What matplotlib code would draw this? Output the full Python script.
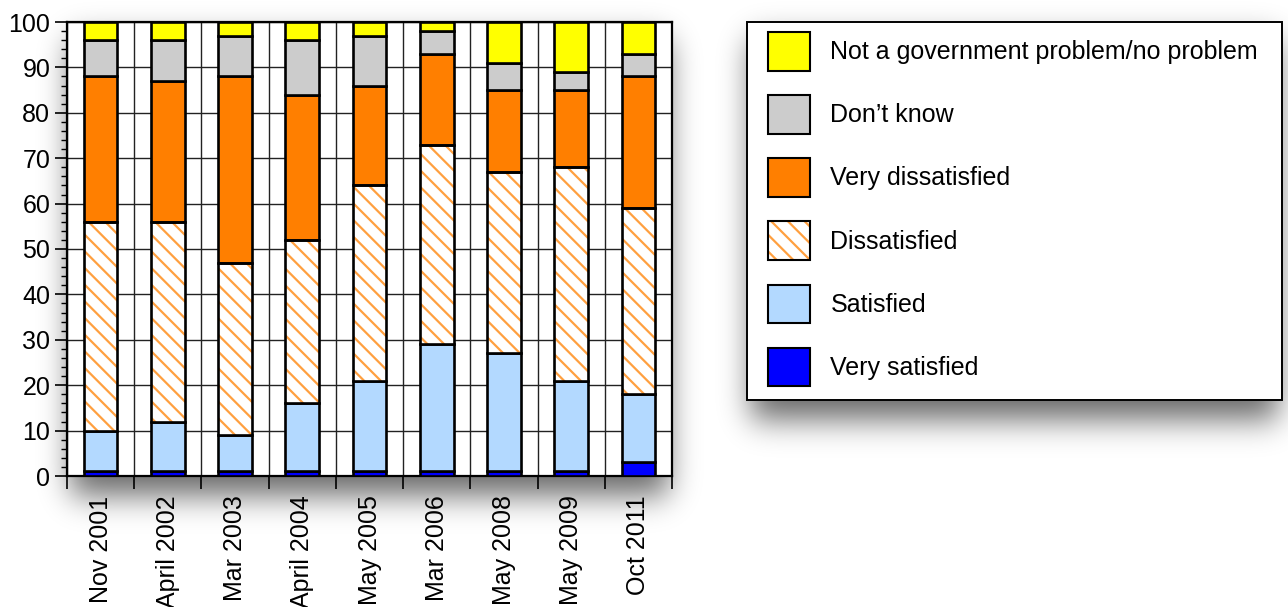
import numpy as np
import matplotlib.pyplot as plt
from matplotlib.patches import Patch, Rectangle

plt.rcParams['font.family'] = ['Liberation Sans', 'DejaVu Sans']
plt.rcParams['hatch.linewidth'] = 1.6

surveys = ['Nov 2001', 'April 2002', 'Mar 2003', 'April 2004', 'May 2005',
           'Mar 2006', 'May 2008', 'May 2009', 'Oct 2011']

# percent of respondents, stacked bottom to top
very_satisfied = [1, 1, 1, 1, 1, 1, 1, 1, 3]
satisfied = [9, 11, 8, 15, 20, 28, 26, 20, 15]
dissatisfied = [46, 44, 38, 36, 43, 44, 40, 47, 41]
very_dissatisfied = [32, 31, 41, 32, 22, 20, 18, 17, 29]
dont_know = [8, 9, 9, 12, 11, 5, 6, 4, 5]
not_gov_problem = [4, 4, 3, 4, 3, 2, 9, 11, 7]

layers = [
    (very_satisfied, 'Very satisfied', '#0000ff', None),
    (satisfied, 'Satisfied', '#b3d9ff', None),
    (dissatisfied, 'Dissatisfied', '#ffffff', '\\\\'),
    (very_dissatisfied, 'Very dissatisfied', '#ff7f00', None),
    (dont_know, 'Don\u2019t know', '#cccccc', None),
    (not_gov_problem, 'Not a government problem/no problem', '#ffff00', None),
]
hatch_orange = '#ffa040'

W, H = 1288, 607
fig = plt.figure(figsize=(W / 100, H / 100), dpi=100)
ax = fig.add_axes([67 / W, 1 - 476 / H, 605 / W, 454 / H])
ax.set_zorder(2)

x = np.arange(len(surveys))
bottom = np.zeros(len(surveys))
handles = []
for vals, name, color, hatch in layers:
    vals = np.array(vals, dtype=float)
    if hatch:
        ax.bar(x, vals, 0.5, bottom=bottom, color=color, edgecolor=hatch_orange,
               linewidth=0, hatch=hatch, zorder=3)
        ax.bar(x, vals, 0.5, bottom=bottom, fill=False, edgecolor='black',
               linewidth=1.9, zorder=4)
        h = (Patch(facecolor=color, edgecolor=hatch_orange, linewidth=0, hatch=hatch),
             Patch(fill=False, edgecolor='black', linewidth=1.5))
    else:
        ax.bar(x, vals, 0.5, bottom=bottom, color=color, edgecolor='black',
               linewidth=1.9, zorder=3)
        h = Patch(facecolor=color, edgecolor='black', linewidth=1.5)
    handles.append((h, name))
    bottom += vals

ax.set_xlim(-0.5, len(surveys) - 0.5)
ax.set_ylim(0, 100)
ax.set_yticks(np.arange(0, 101, 10))
ax.set_yticks(np.arange(0, 101, 2), minor=True)
ax.set_xticks(np.arange(-0.5, len(surveys), 1))
ax.set_xticklabels([])
ax.set_xticks(x, minor=True)
ax.set_xticklabels(surveys, minor=True, rotation=90)

ax.tick_params(axis='y', which='major', length=9, width=1.2, labelsize=18, pad=3)
ax.tick_params(axis='y', which='minor', length=4, width=1)
ax.tick_params(axis='x', which='major', length=9, width=1.2)
ax.tick_params(axis='x', which='minor', length=0, labelsize=18, pad=14)

ax.grid(axis='y', which='major', color='#222222', linewidth=1, zorder=1)
ax.grid(axis='x', which='major', color='#222222', linewidth=1, zorder=1)
ax.set_axisbelow(True)
for s in ax.spines.values():
    s.set_linewidth(1.6)

handles = handles[::-1]
leg = fig.legend([h for h, _ in handles], [n for _, n in handles],
                 loc='upper left', bbox_to_anchor=(768 / W, 1 - 32 / H),
                 fontsize=18, frameon=False, handlelength=1.66, handleheight=2.0,
                 labelspacing=0.98, handletextpad=0.84, borderpad=0,
                 borderaxespad=0)
leg.set_zorder(4)

fig.canvas.draw()

# legend frame with its own padding around the entries
lb = leg.get_window_extent()
fx0, fy0, fx1, fy1 = lb.x0 - 21, lb.y0 - 14, lb.x1 + 24, lb.y1 + 10
frame = Rectangle((fx0 / W, fy0 / H), (fx1 - fx0) / W, (fy1 - fy0) / H,
                  transform=fig.transFigure, facecolor='white', edgecolor='black',
                  linewidth=1.4, zorder=3)
fig.add_artist(frame)


def blurred_step(n, lo, hi, sigma):
    line = np.zeros(n)
    line[max(int(lo), 0):min(int(hi), n)] = 1.0
    k = np.arange(-3 * sigma, 3 * sigma + 1)
    kern = np.exp(-0.5 * (k / sigma) ** 2)
    kern /= kern.sum()
    return np.convolve(line, kern, mode='same')


# soft drop shadows behind the plot area and the legend frame
ab = ax.get_window_extent()
shade = np.zeros((H, W))
for x0, y0, x1, y1 in ((ab.x0, ab.y0, ab.x1, ab.y1), (fx0, fy0, fx1, fy1)):
    sx = blurred_step(W, x0 + 4, x1 - 4, 15)
    sy = blurred_step(H, y0 - 18, y1 - 18, 16)
    shade = 1 - (1 - shade) * (1 - 0.6 * np.outer(sy, sx))
img = np.zeros((H, W, 4))
img[..., 3] = shade
fig.figimage(img, origin='lower', zorder=-10)

fig.savefig('out.png', dpi=100)
